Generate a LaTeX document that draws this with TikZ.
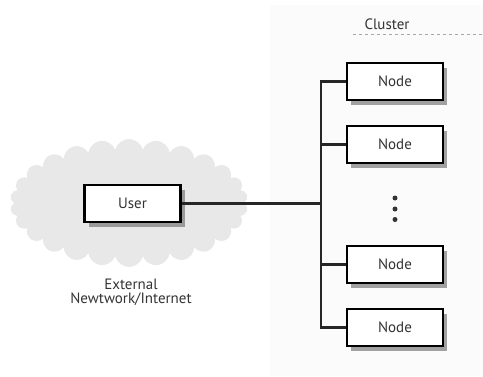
\documentclass[tikz,border=0pt]{standalone}
\usepackage{fontspec}
\setmainfont{PT Sans}
\usetikzlibrary{shapes.symbols,shadows}
\begin{document}
\begin{tikzpicture}[x=1pt,y=-1pt,
  box/.style={draw=black,line width=2.4pt,fill=white,minimum width=96pt,minimum height=37pt,inner sep=0pt,
    font=\fontsize{15}{17}\selectfont,text=black!80,
    drop shadow={shadow xshift=4pt,shadow yshift=-5pt,fill=black!60,opacity=0.6}},
  wire/.style={line width=2.4pt,black!85},
  dot/.style={circle,fill=black!80,inner sep=0pt,minimum size=5pt},
  lbl/.style={font=\fontsize{15}{17}\selectfont,text=black!80,align=center}]
\useasboundingbox (0,0) rectangle (483,376);
\fill[black!1.5] (270,5) rectangle (483,376);
\node[cloud,cloud puffs=26,cloud puff arc=150,aspect=1.9,fill=black!9,draw=none,
  minimum width=238pt,minimum height=128pt] (cloud) at (129,203) {};
\node[box] (user) at (132.5,203.5) {User};
\node[box] (n1) at (395,81.5) {Node};
\node[box] (n2) at (395,144.5) {Node};
\node[box] (n3) at (395,264.5) {Node};
\node[box] (n4) at (395,327.5) {Node};
\coordinate (bus) at (321,203.5);
\draw[wire] (user.east) -- (bus);
\draw[wire] (n1.west) -| (bus);
\draw[wire] (n2.west) -| (bus);
\draw[wire] (n4.west) -| (bus);
\draw[wire] (n3.west) -- (n3.west -| bus);
\node[dot] (dA) at (395,198) {};
\node[dot] (dB) at (395,209) {};
\node[dot] (dC) at (395,219.5) {};
\node[lbl] (ext) at (131,292) {External\\[-3pt]Newtwork/Internet};
\node[lbl] (cl) at (387,24) {Cluster};
\coordinate (d1) at (353,34);
\coordinate (d2) at (483,34);
\draw[black!35,dashed,line width=0.8pt] (d1) -- (d2);
\end{tikzpicture}
\end{document}
